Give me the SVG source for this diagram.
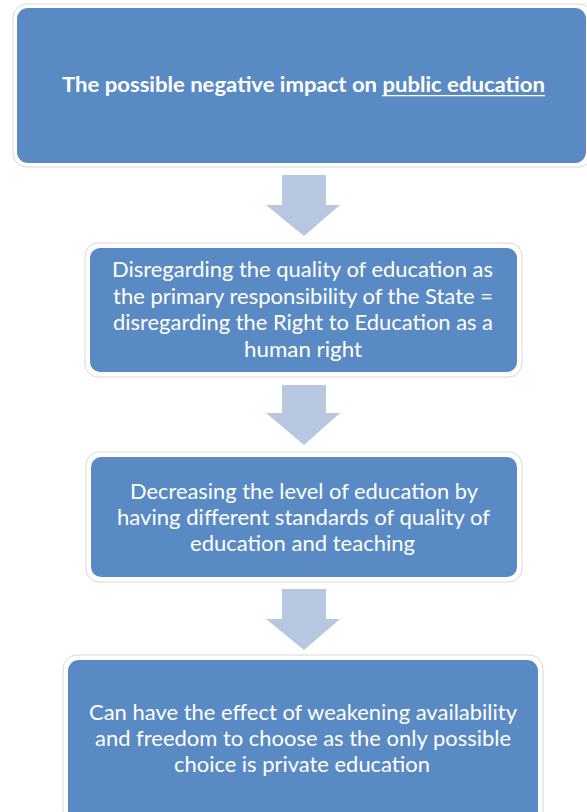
<svg xmlns="http://www.w3.org/2000/svg" width="587" height="812" viewBox="0 0 587 812">
<style>
.halo{fill:#ffffff;stroke:#d8d8d8;stroke-width:1}
.box{fill:#5a8ac4}
.arrow{fill:#b8c7e0}
.t{font-family:Lato,"Open Sans","Liberation Sans",sans-serif;font-size:20.5px;fill:#ffffff;text-anchor:middle}
.b{font-weight:bold}
</style>
<rect width="587" height="812" fill="#ffffff"/>
<g id="connectors">
<path class="arrow" d="M282,175 H326 V205 H340 L304,236 L266,205 H282 Z"/>
<path class="arrow" d="M282,385 H326 V413 H340 L304,445 L266,413 H282 Z"/>
<path class="arrow" d="M282,589 H326 V619 H340 L304,650 L266,619 H282 Z"/>
</g>
<g id="node1">
<rect class="halo" x="13" y="4" width="580" height="163" rx="14"/>
<rect class="box" x="17" y="8" width="569" height="155" rx="11"/>
<text class="t b" x="303.5" y="92" textLength="483" lengthAdjust="spacingAndGlyphs">The possible negative impact on public education</text>
<rect x="382" y="95" width="163" height="1.3" fill="#ffffff"/>
</g>
<g id="node2">
<rect class="halo" x="85" y="243" width="437" height="134" rx="13"/>
<rect class="box" x="90" y="248" width="427" height="124" rx="10"/>
<text class="t" x="302.5" y="277" textLength="381" lengthAdjust="spacingAndGlyphs">Disregarding the quality of education as</text>
<text class="t" x="303" y="304" textLength="380" lengthAdjust="spacingAndGlyphs">the primary responsibility of the State =</text>
<text class="t" x="303" y="330" textLength="380" lengthAdjust="spacingAndGlyphs">disregarding the Right to Education as a</text>
<text class="t" x="303" y="357" textLength="118" lengthAdjust="spacingAndGlyphs">human right</text>
</g>
<g id="node3">
<rect class="halo" x="86" y="452" width="436" height="130" rx="13"/>
<rect class="box" x="91" y="457" width="426" height="120" rx="10"/>
<text class="t" x="304" y="499" textLength="348" lengthAdjust="spacingAndGlyphs">Decreasing the level of education by</text>
<text class="t" x="303.5" y="525" textLength="373" lengthAdjust="spacingAndGlyphs">having different standards of quality of</text>
<text class="t" x="302.5" y="551" textLength="225" lengthAdjust="spacingAndGlyphs">education and teaching</text>
</g>
<g id="node4">
<rect class="halo" x="63" y="655" width="480" height="170" rx="14"/>
<rect class="box" x="68" y="660" width="470" height="165" rx="11"/>
<text class="t" x="303" y="720" textLength="428" lengthAdjust="spacingAndGlyphs">Can have the effect of weakening availability</text>
<text class="t" x="303" y="746" textLength="416" lengthAdjust="spacingAndGlyphs">and freedom to choose as the only possible</text>
<text class="t" x="302" y="772" textLength="256" lengthAdjust="spacingAndGlyphs">choice is private education</text>
</g>
</svg>
